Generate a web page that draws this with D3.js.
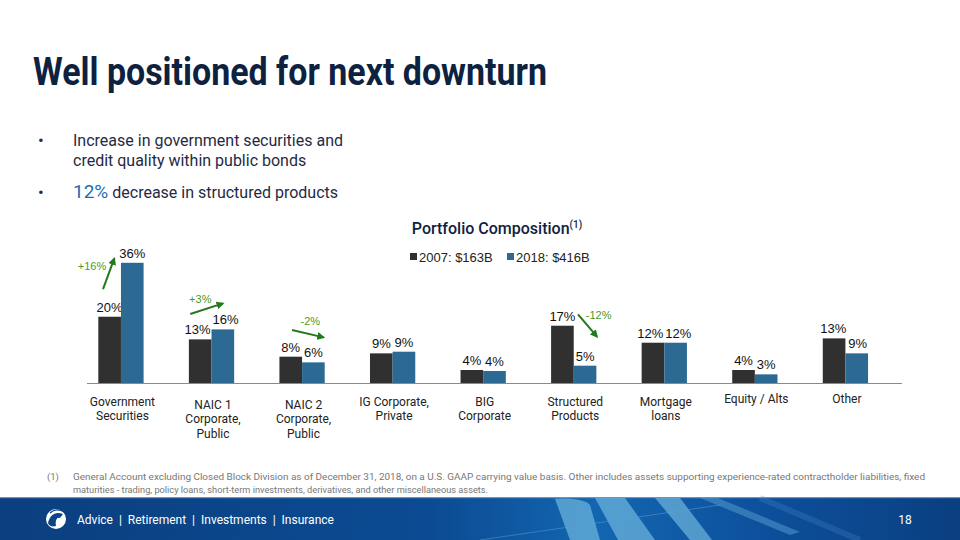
<!DOCTYPE html>
<html><head><meta charset="utf-8">
<script src="https://cdn.jsdelivr.net/npm/d3@7"></script>
<style>body{margin:0;background:#fff}svg{display:block}</style>
</head><body>
<svg id="c" width="960" height="540"></svg>
<script>
// ---------- data ----------
const categories = ["Government\nSecurities","NAIC 1\nCorporate,\nPublic","NAIC 2\nCorporate,\nPublic","IG Corporate,\nPrivate","BIG\nCorporate","Structured\nProducts","Mortgage\nloans","Equity / Alts","Other"];
const seriesNames = ["2007: $163B","2018: $416B"];
const values2007 = [19.9,13.1,7.9,8.9,3.9,17.2,12.1,3.9,13.4];
const values2018 = [36.1,16.1,6.2,9.4,3.6,5.2,12.1,2.6,8.9];
const changeLabels = ["+16%","+3%","-2%","-12%"];
const changeCategories = ["Government\nSecurities","NAIC 1\nCorporate,\nPublic","NAIC 2\nCorporate,\nPublic","Structured\nProducts"];
const titleText = "Well positioned for next downturn";
const bullet1 = ["Increase in government securities and","credit quality within public bonds"];
const bullet2Highlight = "12%";
const bullet2Rest = " decrease in structured products";
const chartTitle = "Portfolio Composition";
const footnoteLines = ["General Account excluding Closed Block Division as of December 31, 2018, on a U.S. GAAP carrying value basis.  Other includes assets supporting experience-rated contractholder liabilities, fixed","maturities - trading, policy loans, short-term investments, derivatives, and other miscellaneous assets."];
const footerText = "Advice  |  Retirement  |  Investments  |  Insurance";
const pageNumber = "18";

// ---------- setup ----------
const svg = d3.select("#c");
const colors = ["#303030","#2c6a93"];
const green = "#237a1c";
const navy = "#0d2240";

// header
svg.append("text").attr("x",33).attr("y",85)
  .attr("font-family","Roboto, 'Liberation Sans', sans-serif").attr("font-weight",700)
  .attr("font-size",39).attr("fill",navy)
  .attr("textLength",514).attr("lengthAdjust","spacingAndGlyphs").text(titleText);

const bf = "Roboto, 'Liberation Sans', sans-serif";
const bcol = "#1f2b45";
svg.append("text").attr("x",38).attr("y",146).attr("font-family",bf).attr("font-size",17).attr("fill",bcol).text("•");
bullet1.forEach((t,i)=>svg.append("text").attr("x",73).attr("y",146+20*i).attr("font-family",bf).attr("font-size",16).attr("fill",bcol).text(t));
svg.append("text").attr("x",38).attr("y",198).attr("font-family",bf).attr("font-size",17).attr("fill",bcol).text("•");
const b2 = svg.append("text").attr("x",73).attr("y",198).attr("font-family",bf).attr("fill",bcol).attr("font-size",16);
b2.append("tspan").attr("fill","#1d6db3").attr("font-size",19).text(bullet2Highlight);
b2.append("tspan").text(bullet2Rest);

// chart title + legend
const ct = svg.append("text").attr("x",497).attr("y",234).attr("text-anchor","middle")
  .attr("font-family",bf).attr("font-weight",500).attr("font-size",16).attr("fill",navy);
ct.append("tspan").text(chartTitle);
ct.append("tspan").attr("font-size",10).attr("dy",-6).text("(1)");

const lf = "'Liberation Sans', Arial, sans-serif";
const legX = [410,507];
seriesNames.forEach((s,i)=>{
  svg.append("rect").attr("x",legX[i]).attr("y",253).attr("width",7).attr("height",7).attr("fill",colors[i]);
  svg.append("text").attr("x",legX[i]+9).attr("y",261.5).attr("font-family",lf).attr("font-size",13).attr("fill","#222").text(s);
});

// scales
const x0 = d3.scaleBand().domain(categories).range([87,902]).paddingInner(0.25).paddingOuter(0.125);
const x1 = d3.scaleBand().domain(seriesNames).range([0, x0.bandwidth()*2/3]);
const y = d3.scaleLinear().domain([0,40]).range([383,249.8]);

const series = [values2007, values2018];
const g = svg.append("g");
const labelSel = [];
series.forEach((vals,si)=>{
  g.selectAll(null).data(categories).enter().append("rect")
    .attr("x",c=>x0(c)+x1(seriesNames[si]))
    .attr("y",(c,i)=>y(vals[i]))
    .attr("width",x1.bandwidth())
    .attr("height",(c,i)=>y(0)-y(vals[i]))
    .attr("fill",colors[si]);
  labelSel.push(g.selectAll(null).data(categories).enter().append("text")
    .attr("x",c=>x0(c)+x1(seriesNames[si])+x1.bandwidth()/2)
    .attr("y",(c,i)=>y(vals[i])-5)
    .attr("text-anchor","middle").attr("font-family",lf).attr("font-size",13).attr("fill","#111")
    .text((c,i)=>Math.round(vals[i])+"%"));
});
// separate touching label pairs at the same height
const n0 = labelSel[0].nodes(), n1 = labelSel[1].nodes();
n0.forEach((a,i)=>{
  const b = n1[i];
  const ba = a.getBBox(), bb = b.getBBox();
  const vOverlap = !(ba.y+ba.height < bb.y || bb.y+bb.height < ba.y);
  const ov = ba.x+ba.width - bb.x;
  if (vOverlap && ov > -1) {
    const s = (ov+1.5)/2;
    d3.select(a).attr("x", +a.getAttribute("x") - s);
    d3.select(b).attr("x", +b.getAttribute("x") + s);
  }
});

// axis baseline
svg.append("line").attr("x1",x0.range()[0]).attr("x2",x0.range()[1]).attr("y1",y(0)+0.5).attr("y2",y(0)+0.5)
  .attr("stroke","#8a8a8a").attr("stroke-width",1.2);

// category labels
categories.forEach(c=>{
  const lines = c.split("\n");
  const cx = x0(c)+x1.bandwidth()+1.5;
  const t = svg.append("text").attr("text-anchor","middle").attr("font-family",bf).attr("font-size",12).attr("fill","#222");
  lines.forEach((l,i)=>t.append("tspan").attr("x",cx).attr("y",400+3*lines.length+14.3*i).text(l));
});

// change arrows (offsets from band start in px, ends in value units)
const arrowGeom = [
  {sx:4.7,sv:28.2,ex:16,ev:37.4,lx:-6.3,lv:35.2},
  {sx:1.4,sv:20.7,ex:34.1,ev:23.9,lx:11.4,lv:25.2},
  {sx:12.6,sv:15.9,ex:44.2,ev:13.7,lx:30.9,lv:18.6},
  {sx:26.9,sv:20.6,ex:45.9,ev:13.9,lx:47.5,lv:20.4}
];
const defs = svg.append("defs");
defs.append("marker").attr("id","ah").attr("viewBox","0 0 10 10").attr("refX",8).attr("refY",5)
  .attr("markerWidth",4).attr("markerHeight",4).attr("orient","auto")
  .append("path").attr("d","M0,0L10,5L0,10z").attr("fill",green);
changeCategories.forEach((c,i)=>{
  const a = arrowGeom[i], bx = x0(c);
  svg.append("line").attr("x1",bx+a.sx).attr("y1",y(a.sv)).attr("x2",bx+a.ex).attr("y2",y(a.ev))
    .attr("stroke",green).attr("stroke-width",2).attr("marker-end","url(#ah)");
  svg.append("text").attr("x",bx+a.lx).attr("y",y(a.lv)+4).attr("text-anchor","middle")
    .attr("font-family",lf).attr("font-size",11).attr("fill","#4b9a2c").text(changeLabels[i]);
});

// footnote
const ff = "Roboto, 'Liberation Sans', sans-serif";
svg.append("text").attr("x",47).attr("y",480).attr("font-family",ff).attr("font-size",9.5).attr("fill","#777").text("(1)");
svg.append("text").attr("x",73).attr("y",480).attr("font-family",ff).attr("font-size",9.5).attr("fill","#777")
  .attr("textLength",852).attr("lengthAdjust","spacingAndGlyphs").text(footnoteLines[0]);
svg.append("text").attr("x",73).attr("y",493).attr("font-family",ff).attr("font-size",9.5).attr("fill","#777")
  .attr("textLength",415).attr("lengthAdjust","spacingAndGlyphs").text(footnoteLines[1]);

// footer band
const lg = defs.append("linearGradient").attr("id","fg").attr("x1","0").attr("x2","1").attr("y1","0").attr("y2","0");
[["0","#0b3f7f"],["0.45","#0b4b93"],["0.62","#1366b0"],["0.8","#0d4f9b"],["1","#0a3f80"]].forEach(s=>lg.append("stop").attr("offset",s[0]).attr("stop-color",s[1]));
svg.append("rect").attr("x",0).attr("y",497).attr("width",960).attr("height",43).attr("fill","url(#fg)");
svg.append("rect").attr("x",0).attr("y",497).attr("width",960).attr("height",1.2).attr("fill","#6f93bd");
const streaks = [
  "M555,499 C560,498 585,498 590,505 L600,540 L570,540 Z",
  "M595,498 L625,498 L655,540 L618,540 Z",
  "M655,498 L680,498 L712,540 L690,540 Z",
  "M700,498 L718,498 L800,532 L790,535 Z"
];
streaks.forEach((d,i)=>svg.append("path").attr("d",d).attr("fill",i==3?"#5fa8d8":"#7ec4e6").attr("opacity",i==3?0.45:0.6));
svg.append("path").attr("d","M480,540 L720,505").attr("stroke","#5d9fd4").attr("stroke-width",1).attr("opacity",0.5);
svg.append("path").attr("d","M760,498 L860,540").attr("stroke","#4d8fd0").attr("stroke-width",6).attr("opacity",0.25);

// logo
svg.append("circle").attr("cx",56).attr("cy",519).attr("r",10).attr("fill","#ffffff");
svg.append("path").attr("d","M48,523 C50,514 56,511 63,514 L60,518 C57,517 55,520 56,526 C52,527 49,526 48,523Z").attr("fill","#0b4589");
svg.append("path").attr("d","M50,513 C54,509 60,509 64,512").attr("stroke","#0b4589").attr("stroke-width",1.2).attr("fill","none");

svg.append("text").attr("x",77).attr("y",523.5).attr("font-family",bf).attr("font-size",12).attr("fill","#ffffff")
  .attr("xml:space","preserve").style("white-space","pre").text(footerText);
svg.append("text").attr("x",905).attr("y",524).attr("text-anchor","middle").attr("font-family",bf).attr("font-size",12).attr("fill","#ffffff").text(pageNumber);
</script>
</body></html>
